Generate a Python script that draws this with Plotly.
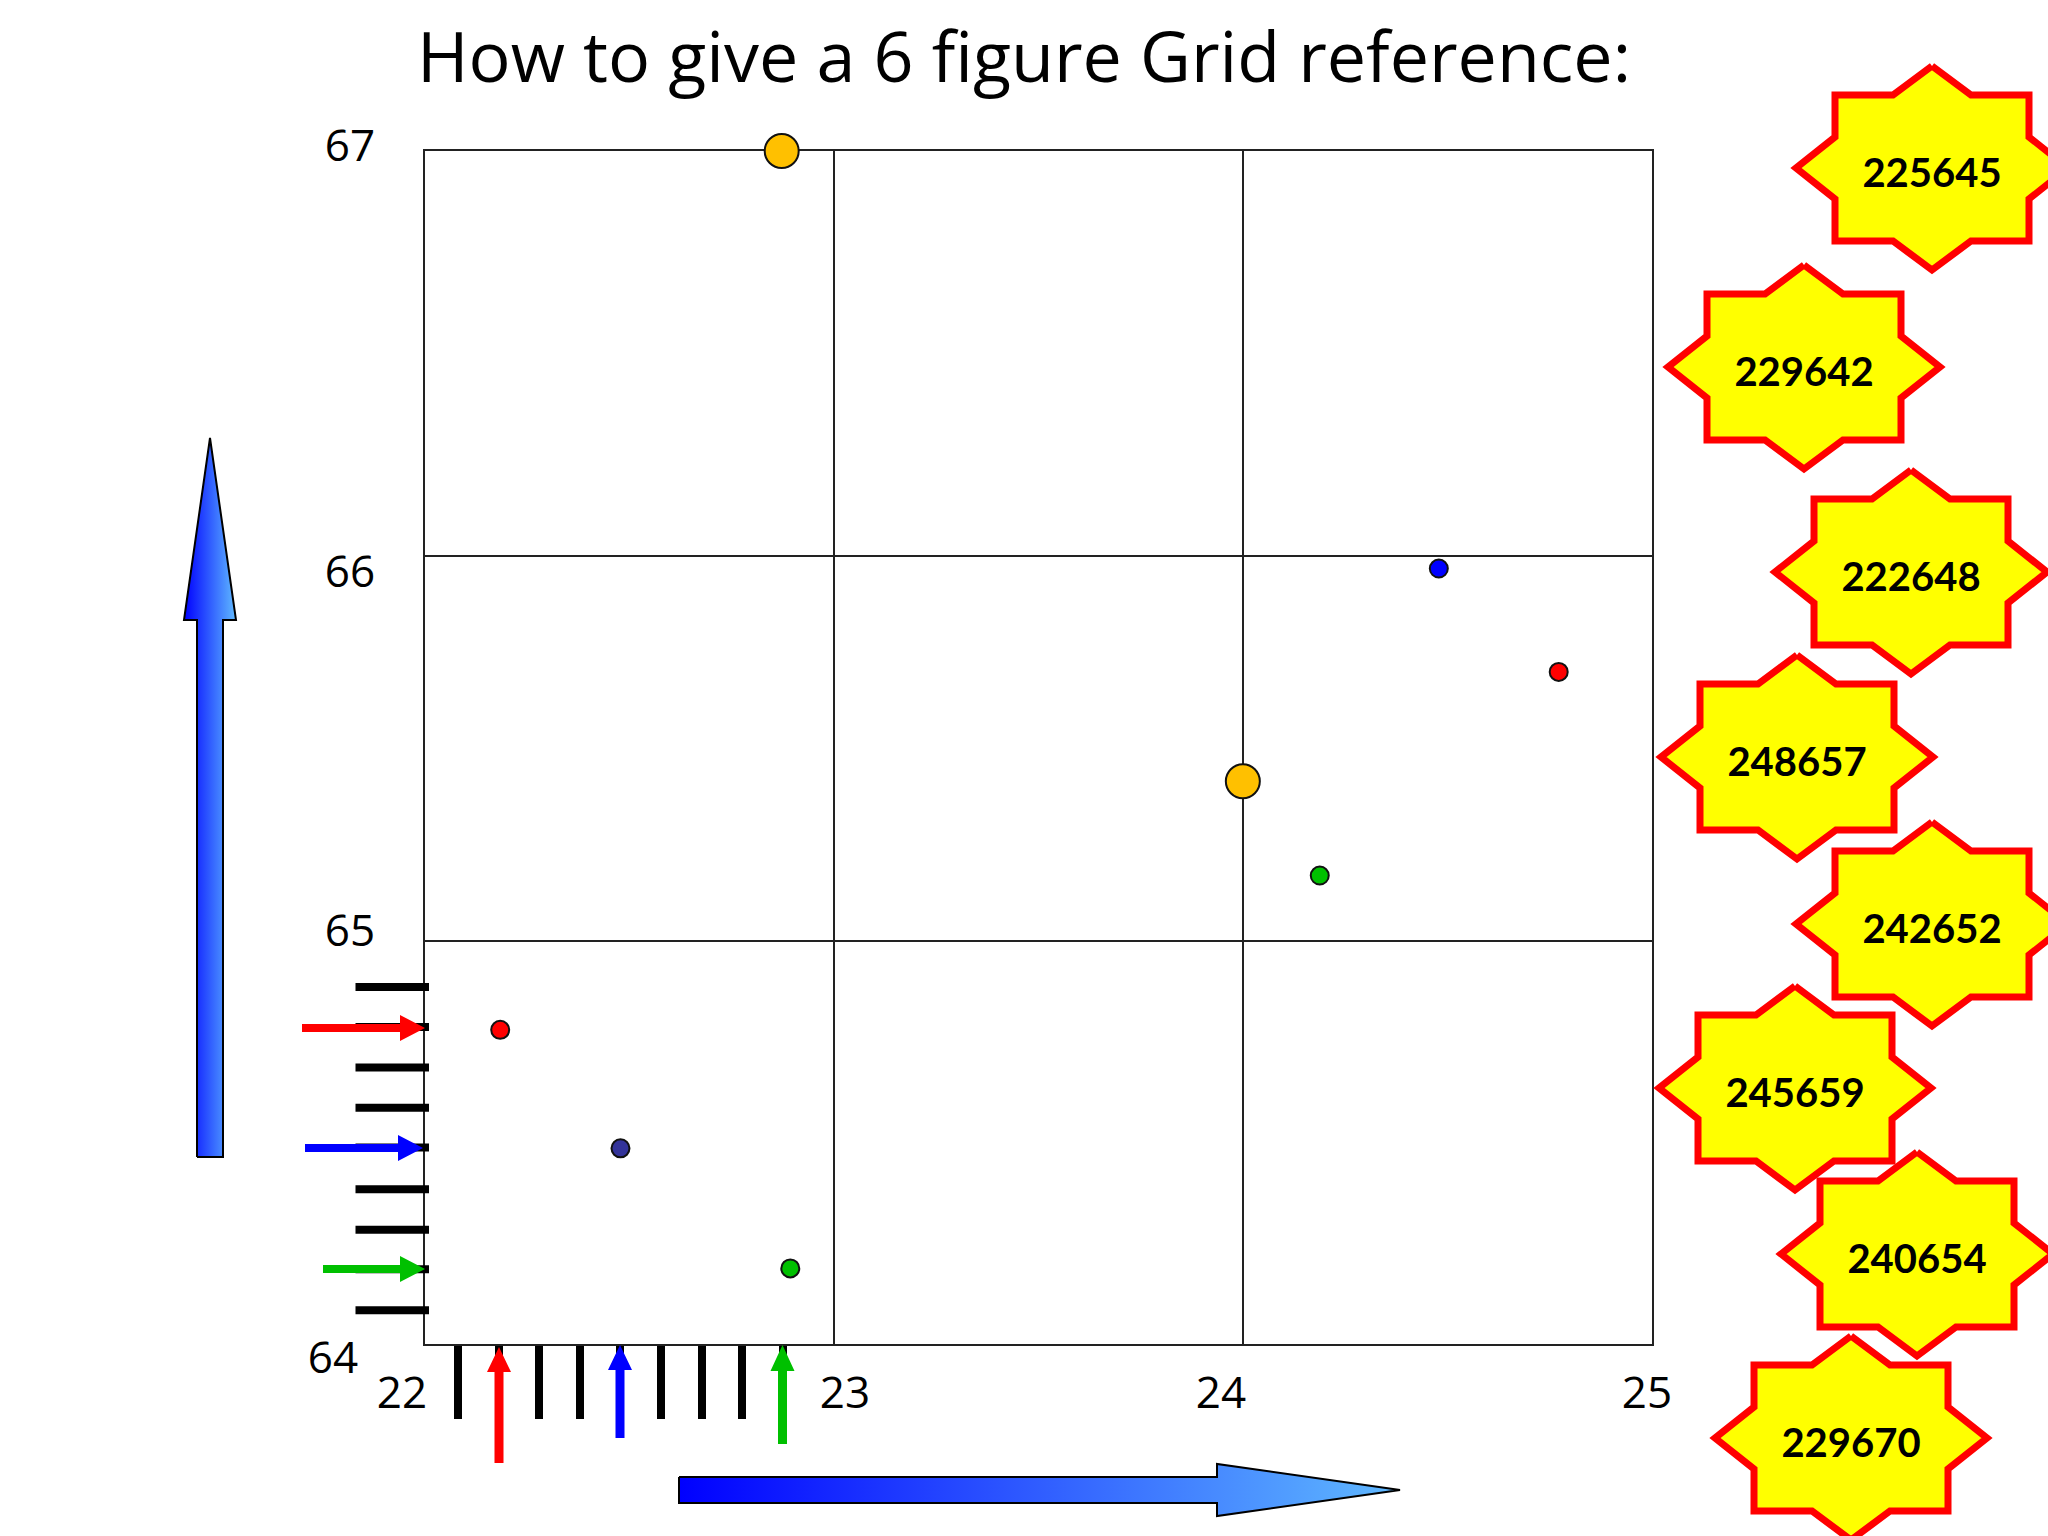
import plotly.graph_objects as go

# =========================
# 1. DATA
# =========================
x_grid = [23, 24]
y_grid = [65.014, 65.982]
x_ticks = [22.083, 22.182, 22.281, 22.379, 22.478, 22.578, 22.677, 22.775, 22.875]
y_ticks = [64.085, 64.188, 64.287, 64.389, 64.494, 64.594, 64.695, 64.797, 64.898]

orange_x = [22.873, 24.0]
orange_y = [67.0, 65.415]
dot_x = [24.479, 24.772, 24.188, 22.185, 22.479, 22.894]
dot_y = [65.95, 65.69, 65.178, 64.79, 64.492, 64.19]
dot_colors = ["#0000ff", "#ff0000", "#00c000", "#ff0000", "#333399", "#00c000"]

star_labels = ["225645", "229642", "222648", "248657", "242652", "245659", "240654", "229670"]
star_cx = [1932, 1804, 1911, 1797, 1932, 1795, 1917, 1851]
star_cy = [168, 367, 572, 757, 924, 1088, 1254, 1438]

axis_labels = ["67", "66", "65", "64", "22", "23", "24", "25"]
axis_label_x = [350, 350, 350, 333, 402, 845, 1221, 1647]
axis_label_y = [150, 576, 935, 1362, 1397, 1397, 1397, 1397]

# =========================
# 2. SHAPE HELPERS (page pixels)
# =========================
W, H = 2048, 1536
FRAME_TOP, FRAME_BOTTOM = 151, 1344


def star_outline(cx, cy):
    pts = [(0, -102), (39, -73), (97, -73), (97, -31), (136, 0), (97, 31), (97, 73),
           (39, 73), (0, 102), (-39, 73), (-97, 73), (-97, 31), (-136, 0), (-97, -31),
           (-97, -73), (-39, -73), (0, -102)]
    return [cx + p[0] for p in pts], [cy + p[1] for p in pts]


def right_arrow(x0, x_head, x_tip, y, shaft, head):
    xs = [x0, x_head, x_head, x_tip, x_head, x_head, x0, x0]
    ys = [y - shaft, y - shaft, y - head, y, y + head, y + shaft, y + shaft, y - shaft]
    return xs, ys


def up_arrow(x, y0, y_head, y_tip, shaft, head):
    xs = [x - shaft, x - shaft, x - head, x, x + head, x + shaft, x + shaft, x - shaft]
    ys = [y0, y_head, y_head, y_tip, y_head, y_head, y0, y0]
    return xs, ys


fig = go.Figure()

# =========================
# 3. POINTS ON THE GRID
# =========================
fig.add_trace(go.Scatter(
    x=dot_x, y=dot_y, mode="markers", cliponaxis=False, showlegend=False,
    marker=dict(size=18, color=dot_colors, line=dict(width=2, color="#111111"))
))
fig.add_trace(go.Scatter(
    x=orange_x, y=orange_y, mode="markers", cliponaxis=False, showlegend=False,
    marker=dict(size=34, color="#ffc000", line=dict(width=2, color="#111111"))
))

# =========================
# 4. OVERLAY: TICKS + ARROWS + STARS
# =========================
# left ticks poke a little inside the frame, so they are lines, not axis ticks
tick_xs, tick_ys = [], []
for v in y_ticks:
    py = FRAME_BOTTOM - (v - 64) / 3 * (FRAME_BOTTOM - FRAME_TOP)
    tick_xs += [355.5, 429, None]
    tick_ys += [py, py, None]
fig.add_trace(go.Scatter(
    x=tick_xs, y=tick_ys, xaxis="x2", yaxis="y2", mode="lines",
    line=dict(color="black", width=8), showlegend=False
))

blue_fade = dict(type="horizontal", colorscale=[[0, "#0000ff"], [1, "#60baff"]])

for xs, ys in [up_arrow(210, 1157, 620, 438, 13, 26),
               right_arrow(679, 1217, 1400, 1490, 13, 26)]:
    fig.add_trace(go.Scatter(
        x=xs, y=ys, xaxis="x2", yaxis="y2", mode="lines", fill="toself",
        fillgradient=blue_fade, line=dict(color="black", width=2), showlegend=False
    ))

small_arrows = [
    (right_arrow(302, 400, 425, 1028, 4, 13), "#ff0000"),
    (right_arrow(305, 398, 423, 1148, 4, 13), "#0000ff"),
    (right_arrow(323, 400, 425, 1269, 4, 13), "#00c000"),
    (up_arrow(499, 1463, 1372, 1347, 4.5, 12), "#ff0000"),
    (up_arrow(620, 1438, 1370, 1345, 4.5, 12), "#0000ff"),
    (up_arrow(782.5, 1444, 1371, 1345, 4.5, 12), "#00c000"),
]
for (xs, ys), colour in small_arrows:
    fig.add_trace(go.Scatter(
        x=xs, y=ys, xaxis="x2", yaxis="y2", mode="lines", fill="toself",
        fillcolor=colour, line=dict(color=colour, width=0), showlegend=False
    ))

for cx, cy in zip(star_cx, star_cy):
    xs, ys = star_outline(cx, cy)
    fig.add_trace(go.Scatter(
        x=xs, y=ys, xaxis="x2", yaxis="y2", mode="lines", fill="toself",
        fillcolor="#ffff00", line=dict(color="#ff0000", width=7), showlegend=False
    ))

fig.add_trace(go.Scatter(
    x=star_cx, y=[c + 9 for c in star_cy], xaxis="x2", yaxis="y2", mode="text",
    text=star_labels, showlegend=False,
    textfont=dict(family="Lato", size=40, color="black", weight="bold")
))
fig.add_trace(go.Scatter(
    x=axis_label_x, y=axis_label_y, xaxis="x2", yaxis="y2", mode="text",
    text=axis_labels, showlegend=False,
    textfont=dict(family="Open Sans", size=44, color="black")
))

# =========================
# 5. AXES + TITLE
# =========================
fig.update_layout(
    width=W, height=H,
    margin=dict(l=0, r=0, t=0, b=0),
    paper_bgcolor="white", plot_bgcolor="rgba(0,0,0,0)",
    title=dict(
        text="How to give a 6 figure Grid reference:",
        x=0.5, xanchor="center", y=0.9625, yanchor="middle",
        font=dict(family="Open Sans", size=70, color="black")
    ),
    xaxis=dict(
        domain=[424.5 / W, 1652 / W], range=[22, 25], layer="below traces",
        tickmode="array", tickvals=x_grid, ticks="", showticklabels=False,
        showgrid=True, gridcolor="#222222", gridwidth=2, zeroline=False,
        showline=True, linecolor="#222222", linewidth=2, mirror=True,
        minor=dict(tickmode="array", tickvals=x_ticks, ticks="outside",
                   ticklen=73, tickwidth=8, tickcolor="black", showgrid=False)
    ),
    yaxis=dict(
        domain=[1 - FRAME_BOTTOM / H, 1 - FRAME_TOP / H], range=[64, 67], layer="below traces",
        tickmode="array", tickvals=y_grid, ticks="", showticklabels=False,
        showgrid=True, gridcolor="#222222", gridwidth=2, zeroline=False,
        showline=True, linecolor="#222222", linewidth=2, mirror=True
    ),
    xaxis2=dict(domain=[0, 1], range=[0, W], visible=False, anchor="y2"),
    yaxis2=dict(domain=[0, 1], range=[H, 0], visible=False, anchor="x2"),
)

# page body margin would push the fixed-size figure 8px in
fig.write_html("out.html", config={"displayModeBar": False},
               post_script="document.body.style.margin = '0';")
